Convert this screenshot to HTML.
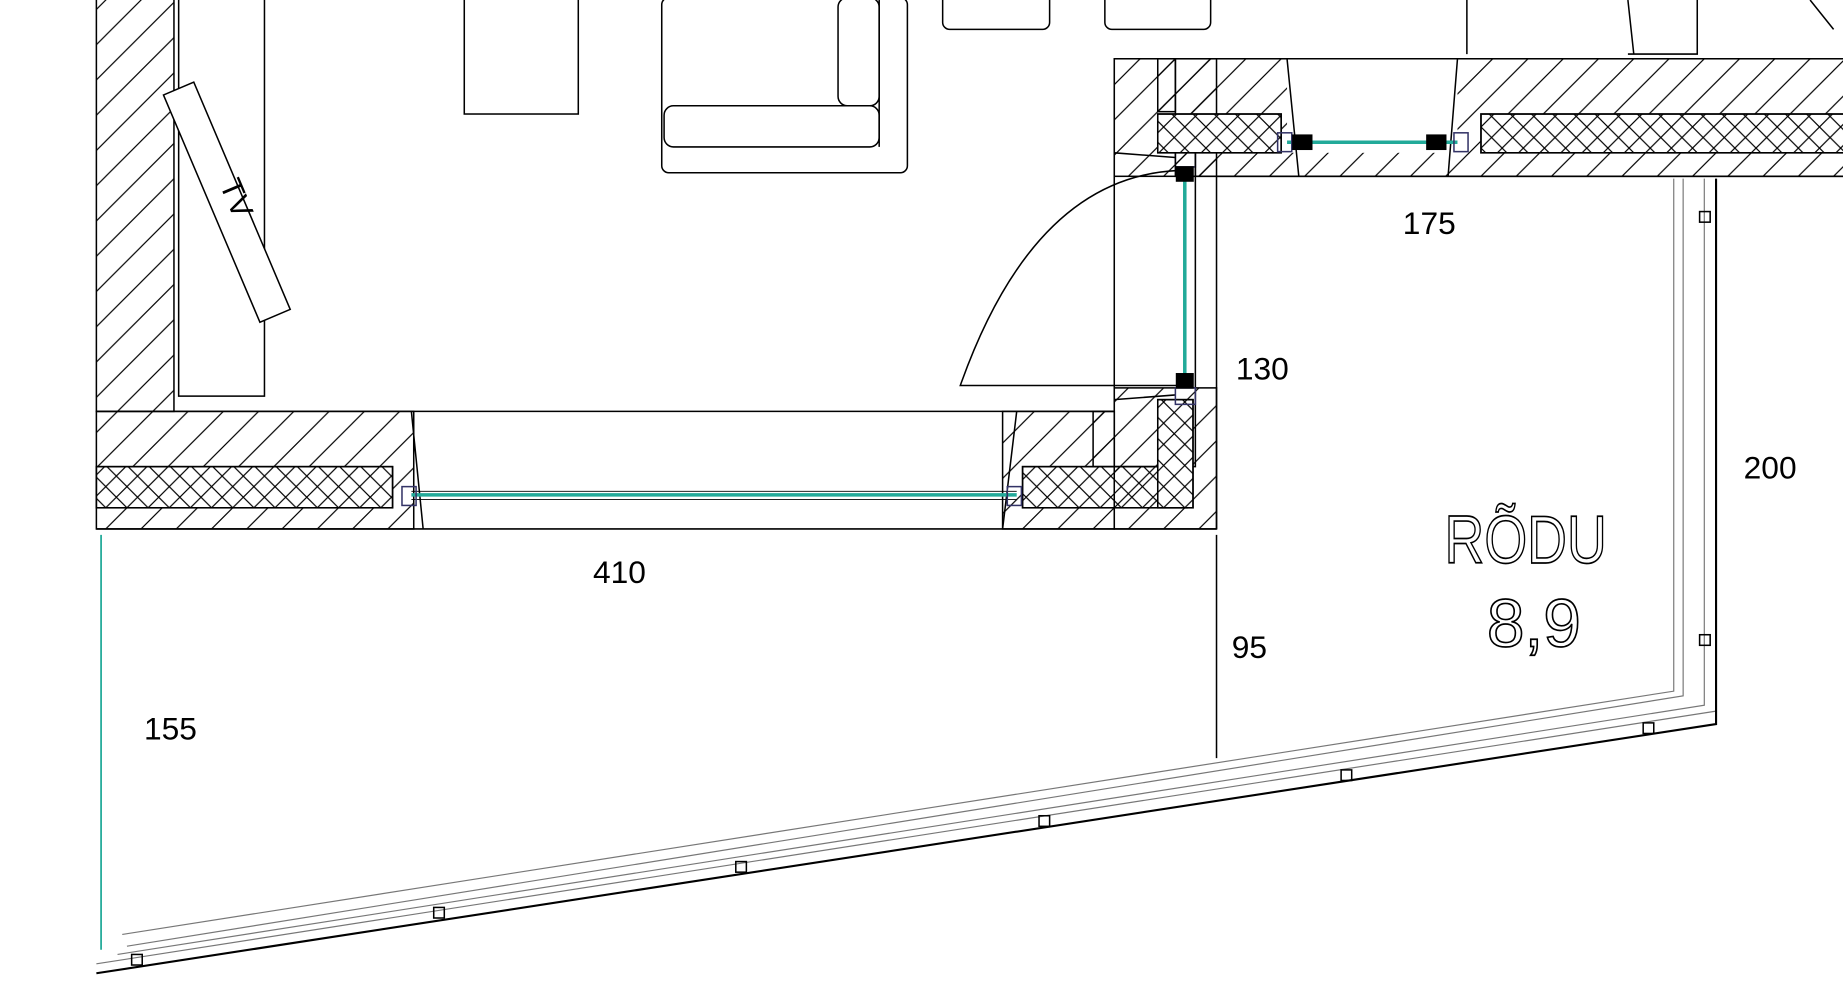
<!DOCTYPE html>
<html><head><meta charset="utf-8"><style>
html,body{margin:0;padding:0;background:#fff;overflow:hidden}
svg{display:block}
text{font-family:"Liberation Sans",sans-serif;fill:#000}
</style></head><body>
<svg width="1843" height="989" viewBox="0 0 1568 841.4" preserveAspectRatio="none" xmlns="http://www.w3.org/2000/svg">
<defs>
<pattern id="h" width="30" height="30" patternUnits="userSpaceOnUse"><path d="M0 30L30 0M-5 5L5 -5M25 35L35 25" stroke="#000" stroke-width="1"/></pattern>
<pattern id="x" width="18" height="18" patternUnits="userSpaceOnUse"><path d="M0 0L18 18M18 0L0 18" stroke="#000" stroke-width="1"/></pattern>
</defs>
<g fill="none" stroke="#000" stroke-width="1.3">
<rect x="82" y="-2" width="66" height="352" fill="url(#h)"/>
<rect x="152" y="-2" width="73" height="339"/>
<g transform="translate(193,172) rotate(-23)"><rect x="-14" y="-105" width="28" height="210" fill="#fff"/><text x="0" y="0" font-size="26" transform="rotate(90)" text-anchor="middle" stroke="none" fill="#000">TV</text></g>
<rect x="395" y="-2" width="97" height="99"/>
<rect x="563" y="-2" width="209" height="149" rx="6"/>
<rect x="713" y="-2" width="35" height="92" rx="8"/>
<rect x="565" y="90" width="183" height="35" rx="8"/>
<line x1="748" y1="0" x2="748" y2="125"/>
<rect x="802" y="-6" width="91" height="31" rx="6"/>
<rect x="940" y="-6" width="90" height="31" rx="6"/>
<path d="M1248 0L1248 46M1385 0L1390 46M1385 46H1444V0M1540 0L1560 25"/>
<rect x="82" y="350" width="270" height="100" fill="url(#h)"/>
<rect x="82" y="397" width="252" height="35" fill="#fff"/>
<rect x="82" y="397" width="252" height="35" fill="url(#x)"/>
<rect x="853" y="350" width="95" height="100" fill="url(#h)"/>
<rect x="870" y="397" width="140" height="35" fill="#fff"/>
<rect x="870" y="397" width="140" height="35" fill="url(#x)"/>
<path d="M82 350H948M82 450H1035M350 350L360 450M865 350L853 450"/>
<line x1="350" y1="421" x2="865" y2="421" stroke="#2a9" stroke-width="3"/>
<line x1="350" y1="418" x2="865" y2="418" stroke="#000" stroke-width="0.8"/>
<line x1="350" y1="425" x2="865" y2="425" stroke="#000" stroke-width="0.8"/>
<rect x="342" y="414" width="12" height="16" stroke="#336"/>
<rect x="857" y="414" width="12" height="16" stroke="#336"/>
<rect x="948" y="50" width="87" height="100" fill="url(#h)"/>
<rect x="948" y="330" width="87" height="120" fill="url(#h)"/>
<rect x="930" y="350" width="18" height="47" fill="url(#h)"/>
<rect x="985" y="50" width="15" height="45" fill="url(#h)"/>
<path d="M948 50V397H1017V130" />
<rect x="985" y="340" width="30" height="92" fill="#fff"/>
<rect x="985" y="340" width="30" height="92" fill="url(#x)"/>
<path d="M1035 150V450M948 130L1000 134M948 340L1000 336"/>
<line x1="1008" y1="148" x2="1008" y2="330" stroke="#2a9" stroke-width="3"/>
<rect x="1000" y="128" width="17" height="14" stroke="#336"/>
<rect x="1000" y="330" width="17" height="14" stroke="#336"/>
<rect x="1001" y="142" width="14" height="12" fill="#000"/>
<rect x="1001" y="318" width="14" height="12" fill="#000"/>
<path d="M1003 145Q880 150 817 328H1003"/>
<rect x="1000" y="50" width="570" height="100" fill="url(#h)"/>
<rect x="985" y="97" width="105" height="33" fill="#fff"/>
<rect x="985" y="97" width="105" height="33" fill="url(#x)"/>
<rect x="1260" y="97" width="310" height="33" fill="#fff"/>
<rect x="1260" y="97" width="310" height="33" fill="url(#x)"/>
<rect x="1095" y="50" width="145" height="80" fill="#fff" stroke="none"/>
<path d="M948 50H1570M1035 150H1570M1095 50L1105 150M1240 50L1232 150M1017 130V150"/>
<line x1="1095" y1="121" x2="1240" y2="121" stroke="#2a9" stroke-width="3"/>
<rect x="1087" y="113" width="12" height="16" stroke="#336"/>
<rect x="1237" y="113" width="12" height="16" stroke="#336"/>
<rect x="1100" y="115" width="16" height="12" fill="#000"/>
<rect x="1214" y="115" width="16" height="12" fill="#000"/>
<path d="M1035 455V645"/>
<path d="M1424 152V588L104 795M1432 152V592L108 805M1450 152V600L100 812M82 820L1460 605" stroke="#777" stroke-width="1"/>
<path d="M1460 152V616L82 828" stroke="#000" stroke-width="1.8"/>
<rect x="1446" y="180" width="9" height="9"/><rect x="1446" y="540" width="9" height="9"/>
<rect x="1398" y="615" width="9" height="9"/><rect x="1141" y="655" width="9" height="9"/><rect x="884" y="694" width="9" height="9"/><rect x="626" y="733" width="9" height="9"/><rect x="369" y="772" width="9" height="9"/><rect x="112" y="812" width="9" height="9"/>
<line x1="86" y1="455" x2="86" y2="808" stroke="#2a9" stroke-width="1.5"/>
</g>
<text x="1216" y="199" font-size="27" text-anchor="middle">175</text>
<text x="1074" y="323" font-size="27" text-anchor="middle">130</text>
<text x="1506" y="407" font-size="27" text-anchor="middle">200</text>
<text x="527" y="496" font-size="27" text-anchor="middle">410</text>
<text x="1063" y="560" font-size="27" text-anchor="middle">95</text>
<text x="145" y="629" font-size="27" text-anchor="middle">155</text>
<g fill="#fff" stroke="#000" stroke-width="1.4">
<text x="1298" y="479" font-size="58" text-anchor="middle" textLength="138" lengthAdjust="spacingAndGlyphs" style="fill:#fff">RÕDU</text>
<text x="1305" y="550" font-size="58" text-anchor="middle" textLength="80" lengthAdjust="spacingAndGlyphs" style="fill:#fff">8,9</text>
</g>
</svg>
</body></html>
